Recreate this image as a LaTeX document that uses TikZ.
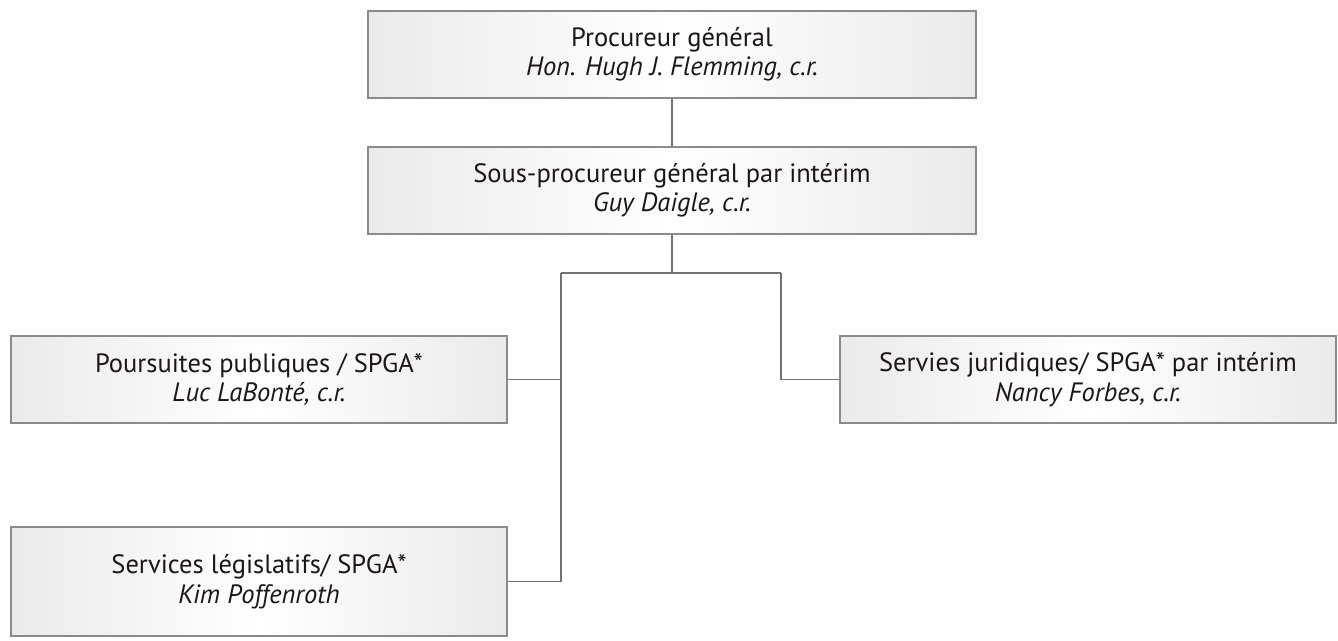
\documentclass[tikz,border=0pt]{standalone}
\usepackage{fontspec}
\setmainfont{PT Sans}
\begin{document}
\begin{tikzpicture}[x=1pt,y=-1pt,
  orgbox/.style={draw=boxborder, line width=1.6pt, rectangle, inner sep=0pt,
    left color=boxgray, right color=boxgray, middle color=white,
    align=center, font=\fontsize{26.5}{29.5}\selectfont, text=textcol},
  wide/.style={minimum width=608pt, minimum height=87pt},
  mid/.style={minimum width=496pt, minimum height=87pt},
  conn/.style={draw=linecol, line width=1.6pt}]
\definecolor{boxborder}{HTML}{8A8A8A}
\definecolor{boxgray}{HTML}{EAEAEB}
\definecolor{linecol}{HTML}{737373}
\definecolor{textcol}{HTML}{1A1718}
\useasboundingbox (0,0) rectangle (1338,640);
\node[orgbox, wide] (pg) at (672,54.5) {Procureur général\\\textit{Hon. Hugh J. Flemming, c.r.}};
\node[orgbox, wide] (spg) at (672,190.5) {Sous-procureur général par intérim\\\textit{Guy Daigle, c.r.}};
\node[orgbox, mid] (pp) at (259,379.5) {Poursuites publiques / SPGA*\\\textit{Luc LaBonté, c.r.}};
\node[orgbox, mid] (sj) at (1088,379.5) {Servies juridiques/ SPGA* par intérim\\\textit{Nancy Forbes, c.r.}};
\node[orgbox, mid, minimum height=109pt] (sl) at (259,581.5) {Services législatifs/ SPGA*\\\textit{Kim Poffenroth}};
\coordinate (j) at (672,273);
\coordinate (jl) at (561,273);
\coordinate (jr) at (781,273);
\draw[conn] (pg.south) -- (spg.north);
\draw[conn] (spg.south) -- (j);
\draw[conn] (jl) -- (jr);
\draw[conn] (jl) |- (pp.east);
\draw[conn] (jl) |- (sl.east);
\draw[conn] (jr) |- (sj.west);
\end{tikzpicture}
\end{document}
